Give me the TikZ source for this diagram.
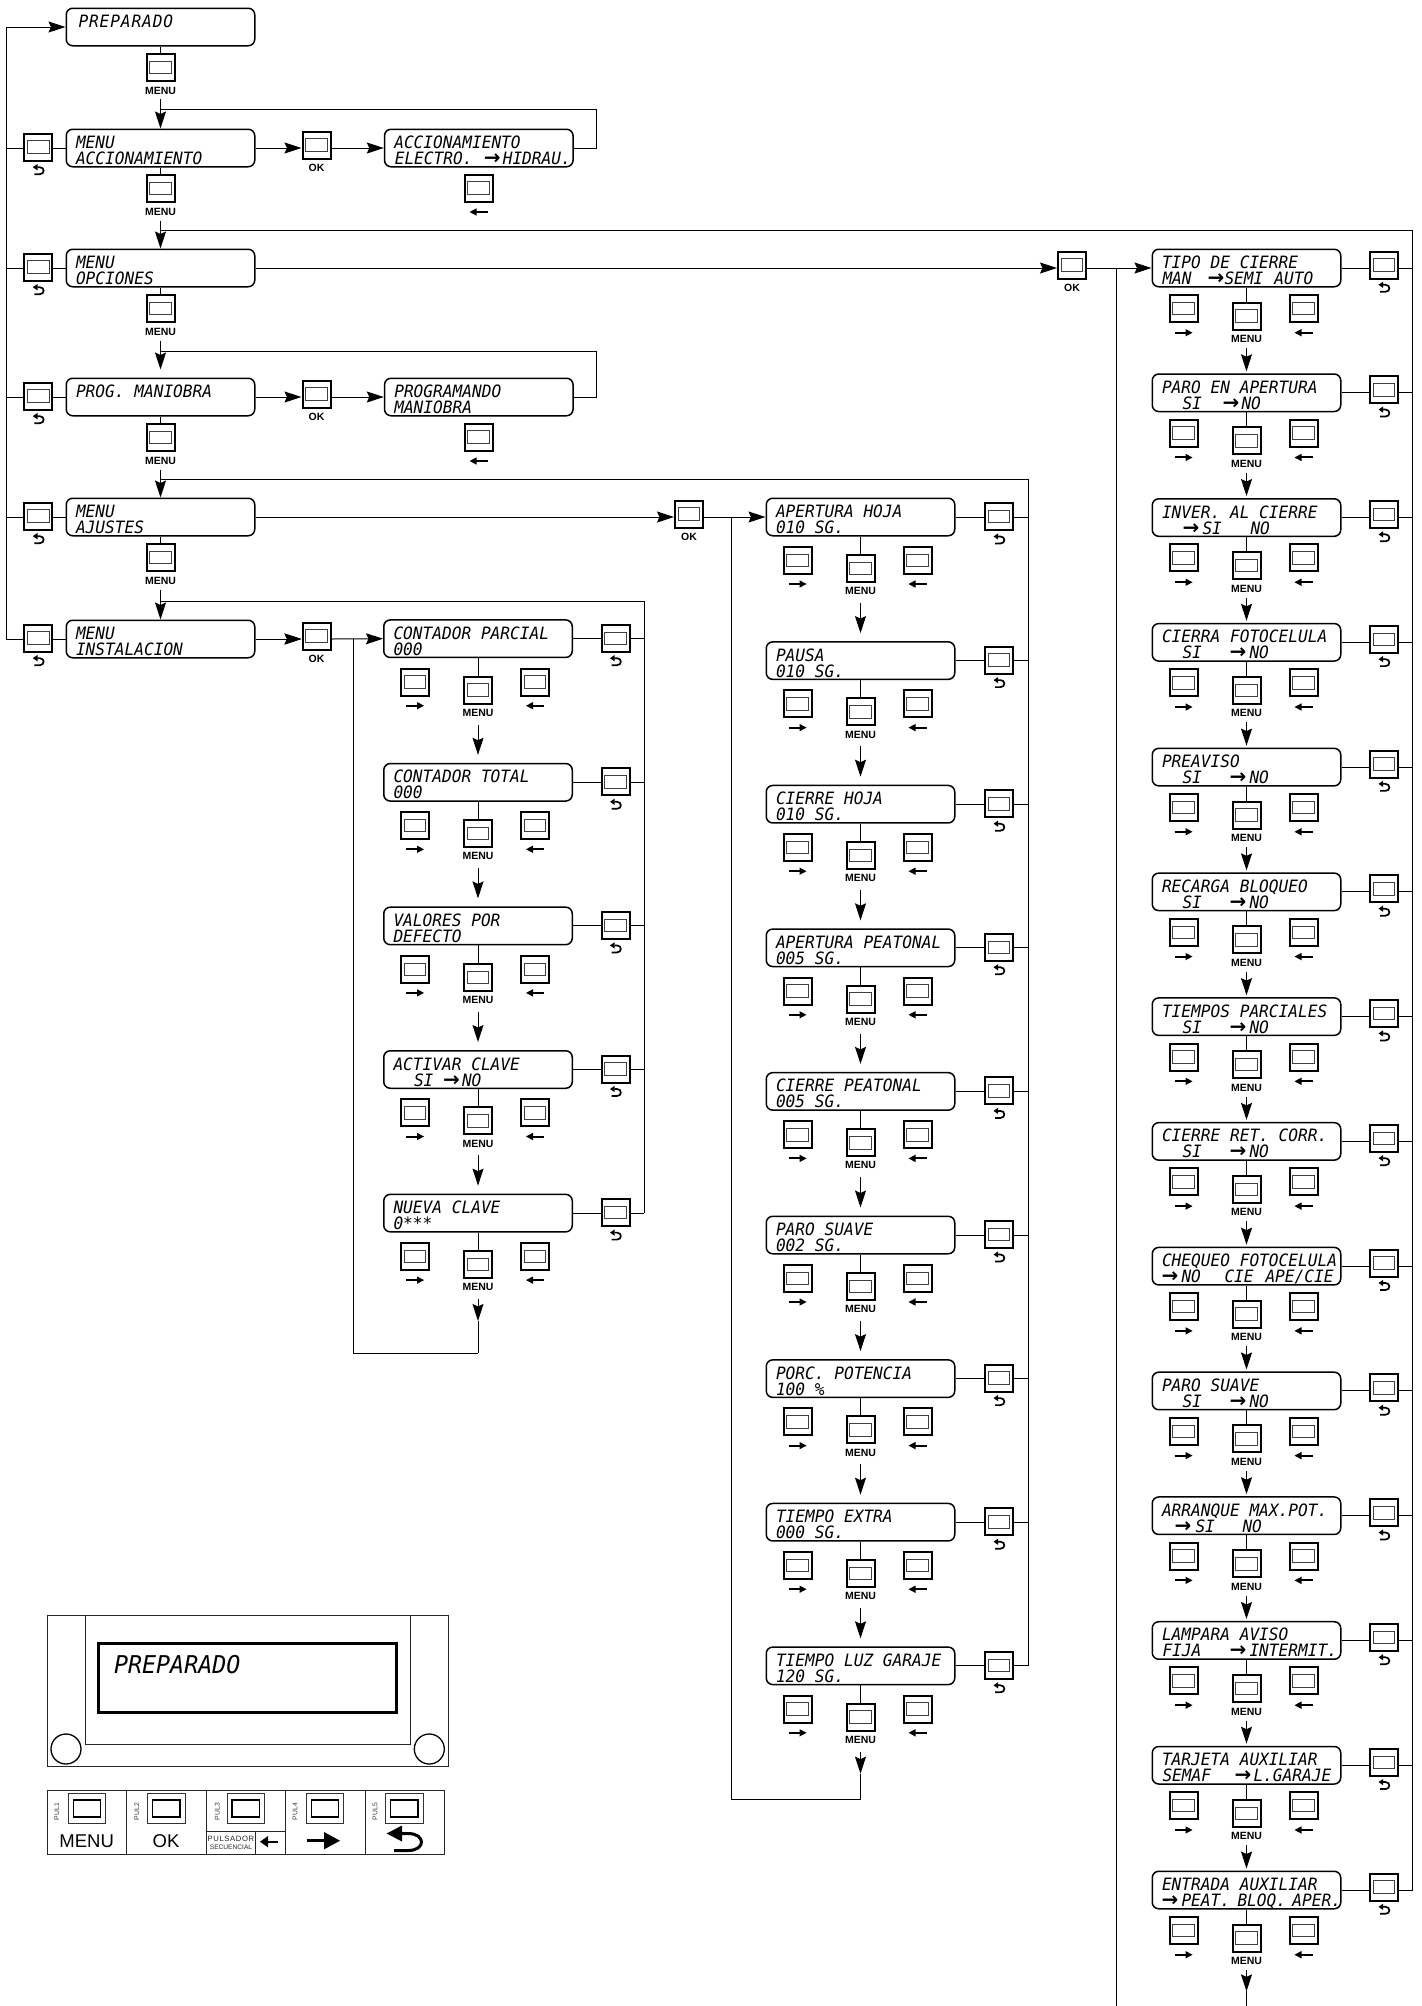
\documentclass[tikz,border=0pt]{standalone}
\usepackage{fontspec}
\usetikzlibrary{arrows.meta}
\setmainfont{Liberation Sans}
\newfontfamily\lcdf[FakeStretch=.95]{DejaVu Sans Mono}
\newfontfamily\arrf{DejaVu Sans}
\newcommand\arr{{\arrf\bfseries\fontsize{20}{20}\selectfont →}}
\newcommand\at[2]{\rlap{\hspace*{#1pt}#2}}
\newcommand\sino{\at{20}{SI}\at{67}{\arr}\at{87}{NO}}
\tikzset{
 ln/.style={line width=1pt,black},
 arrow line/.style={ln,-{Stealth[length=17pt,width=11pt,inset=2.5pt]}},
 lcdbox/.style={draw,line width=1.5pt,rounded corners=6.5pt,minimum width=188.5pt,minimum height=37.5pt,inner sep=0pt,fill=white},
 lcdtxt/.style={anchor=base west,inner sep=0pt,font=\lcdf\itshape\fontsize{17}{17}\selectfont},
 btn/.style={draw,line width=2pt,minimum width=28pt,minimum height=27pt,inner sep=0pt,fill=white},
 btnin/.style={draw=black!75,line width=.9pt,minimum width=21.5pt,minimum height=12.5pt,inner sep=0pt},
 lbl/.style={inner sep=0pt,font=\bfseries\fontsize{10.5}{10.5}\selectfont},
 kbin/.style={draw,line width=1.4pt,minimum width=27.5pt,minimum height=17pt,inner sep=0pt},
 kbout/.style={draw=black!80,line width=.8pt,minimum width=37.5pt,minimum height=30pt,inner sep=0pt},
 pul/.style={inner sep=0pt,rotate=90,text=black!80,font=\fontsize{6.8}{6.8}\selectfont},
 panel/.style={line width=1pt,draw=black!85},
 ricon/.pic={\draw[line width=2pt] (-9,0) -- (3,0); \fill (2,-3.7) -- (9,0) -- (2,3.7) -- cycle;},
 licon/.pic={\draw[line width=2pt] (9,0) -- (-3,0); \fill (-2,-3.7) -- (-9,0) -- (-2,3.7) -- cycle;},
 bicon/.pic={\fill (-5.5,-3.5) -- (-.8,-6.7) -- (-.8,-.3) -- cycle;
   \draw[line width=1.7pt] (-1,-3.5) -- (1.5,-3.5) .. controls (6.6,-3.5) and (6.6,3.5) .. (1.5,3.5) -- (-4,3.5);},
}
% a button: name, x, y
\newcommand\btnn[3]{\node[btn] (#1) at (#2,#3) {}; \node[btnin] (#1i) at (#1.center) {};}
% an lcd box: name, x, y, line1, line2
\newcommand\lcd[5]{\node[lcdbox] (#1) at (#2,#3) {};
 \node[lcdtxt] (#1a) at ([xshift=-84.7pt,yshift=-.5pt]#1.center) {#4};
 \def\tmpx{#5}\ifx\tmpx\empty\else\node[lcdtxt] (#1b) at ([xshift=-84.7pt,yshift=-16.5pt]#1.center) {#5};\fi}
% a column row: name, cx, cy, line1, line2, dyside, dymenu, dybackbtn, dyicon
\newcommand\rowx[9]{\lcd{#1}{#2}{#3}{#4}{#5}
 \btnn{#1r}{#2-63}{#3+#6}\btnn{#1m}{#2}{#3+#7}\btnn{#1l}{#2+57}{#3+#6}
 \btnn{#1k}{#2+\bdx}{#3+#8}
 \pic at (#2-63,#3+#9) {ricon};
 \pic at (#2+57,#3+#9) {licon};
 \pic at (#2+\bdx,#3+\bic) {bicon};
 \node[lbl] (#1t) at (#2,#3+\mlab) {MENU};
 \draw[ln] (#1.south) -- (#1m.north);
 \draw[ln] (#1.east) -- (#1.east -| #1k.west);
 \draw[ln] (#1.east -| #1k.east) -- (#1.east -| \rail);}
\begin{document}
\begin{tikzpicture}[x=1pt,y=-1pt]
\useasboundingbox (0,0) rectangle (1422,2006);
\coordinate (rail0) at (6.4,27);
% column 1
\lcd{a0}{160.5}{27}{\at{2}{P\hspace{.9pt}R\hspace{.9pt}E\hspace{.9pt}P\hspace{.9pt}A\hspace{.9pt}R\hspace{.9pt}A\hspace{.9pt}D\hspace{.9pt}O}}{}
\lcd{a1}{160.5}{148}{MENU}{ACCIONAMIENTO}
\lcd{a2}{160.5}{268}{MENU}{OPCIONES}
\lcd{a3}{160.5}{397}{PROG. MANIOBRA}{}
\lcd{a4}{160.5}{517}{MENU}{AJUSTES}
\lcd{a5}{160.5}{639}{MENU}{INSTALACION}
\lcd{b1}{478.8}{148}{ACCIONAMIENTO}{\at{0}{ELECTRO.}\at{89}{\arr}\at{108}{HIDRAU.}}
\lcd{b3}{478.8}{397}{PROGRAMANDO}{MANIOBRA}
\foreach \n/\y in {a0/27,a1/148,a2/268,a3/397,a4/517}{
 \btnn{\n m}{160.5}{\y+40.5}
 \node[lbl] (\n t) at (160.5,\y+64) {MENU};
 \draw[ln] (\n.south) -- (\n m.north);
}
\foreach \n/\y in {a1/148,a2/268,a3/397,a4/517,a5/639}{
 \btnn{\n k}{38.3}{\y-1}
 \pic at (38.3,\y+22.7) {bicon};
 \draw[ln] (\n.west -| rail0) -- (\n.west -| \n k.west);
 \draw[ln] (\n.west -| \n k.east) -- (\n.west);
}
\draw[ln] (rail0) -- (a5.west -| rail0);
\draw[arrow line] (rail0) -- (a0.west);
% OK buttons
\foreach \n/\x/\y in {a1/316.5/148,a3/316.5/397,a5/316.5/639,a2/1072/268,a4/689/517}{
 \btnn{\n o}{\x}{\y-3}
 \node[lbl] (\n ot) at (\x,\y+20) {OK};
 \draw[arrow line] (\n.east) -- (\n.east -| \n o.west);
}
\draw[arrow line] (a1.east -| a1o.east) -- (b1.west);
\draw[arrow line] (a3.east -| a3o.east) -- (b3.west);
\foreach \n/\y in {b1/148,b3/397}{
 \btnn{\n r}{478.6}{\y+40}
 \pic at (478.6,\y+64) {licon};
}
% column 1 vertical flow
\draw[arrow line] ([yshift=-4.2pt]a0t.south) -- (a1.north);
\draw[arrow line] ([yshift=-5pt]a1t.south) -- (a2.north);
\draw[arrow line] ([yshift=-5pt]a2t.south) -- ([yshift=8pt]a3.north);
\draw[arrow line] ([yshift=-5pt]a3t.south) -- (a4.north);
\draw[arrow line] ([yshift=-5pt]a4t.south) -- (a5.north);
\coordinate (l1) at (596,109);
\coordinate (l3) at (596,351);
\draw[ln] (b1.east) -- (b1.east -| l1) -- (l1) -- (l1 -| a1.north);
\draw[ln] (b3.east) -- (b3.east -| l3) -- (l3) -- (l3 -| a3.north);
% column 2
\def\bdx{137.5}\def\bic{23}\def\mlab{74}\def\rail{rail2}
\coordinate (rail2) at (644.4,601);
\foreach \i/\s/\t in {1/{CONTADOR PARCIAL}/{000},2/{CONTADOR TOTAL}/{000},3/{VALORES POR}/{DEFECTO},4/{ACTIVAR CLAVE}/{\at{20}{SI}\at{49}{\arr}\at{68}{NO}},5/{NUEVA CLAVE}/{0***}}{
 \pgfmathsetmacro\cy{638.7+(\i-1)*143.6}
 \rowx{c\i}{478}{\cy}{\s}{\t}{43.3}{51.3}{-.5}{67}
}
\draw[ln] (rail2) -- (rail2 -| a5.north);
\draw[ln] (rail2) -- (c5.east -| rail2);
\foreach \i/\j in {1/2,2/3,3/4,4/5}{
 \draw[arrow line] ([yshift=-8pt]c\i t.south) -- ([yshift=8pt]c\j.north);
}
\draw[arrow line] (a5.east) -- (a5.east -| a5o.west);
\coordinate (cb) at (353.2,1353);
\draw[arrow line] (a5.east -| a5o.east) -- (c1.west);
\draw[ln] (c1.west -| cb) -- (cb) -- (cb -| c5.south);
\draw[arrow line] ([yshift=-8pt]c5t.south) -- ([yshift=-30pt]c5t.south);
\draw[ln] ([yshift=-30pt]c5t.south) -- (cb -| c5.south);
% column 3
\def\bdx{138.5}\def\rail{rail3}
\coordinate (rail3) at (1028,479.3);
\foreach \i/\s/\t in {1/{APERTURA HOJA}/{010 SG.},2/{PAUSA}/{010 SG.},3/{CIERRE HOJA}/{010 SG.},4/{APERTURA PEATONAL}/{005 SG.},5/{CIERRE PEATONAL}/{005 SG.},6/{PARO SUAVE}/{002 SG.},7/{PORC. POTENCIA}/{100 \%},8/{TIEMPO EXTRA}/{000 SG.},9/{TIEMPO LUZ GARAJE}/{120 SG.}}{
 \pgfmathsetmacro\cy{517+(\i-1)*143.6}
 \rowx{d\i}{860.5}{\cy}{\s}{\t}{43.3}{51.3}{-.5}{67}
}
\draw[ln] (rail3) -- (rail3 -| a4.north);
\draw[ln] (rail3) -- (d9.east -| rail3);
\foreach \i/\j in {1/2,2/3,3/4,4/5,5/6,6/7,7/8,8/9}{
 \draw[arrow line] ([yshift=-8pt]d\i t.south) -- ([yshift=8pt]d\j.north);
}
\draw[arrow line] (a4.east -| a4o.east) -- (d1.west);
\coordinate (db) at (731.5,1799);
\draw[ln] (d1.west -| db) -- (db) -- (db -| d9.south);
\draw[arrow line] ([yshift=-8pt]d9t.south) -- ([yshift=-30pt]d9t.south);
\draw[ln] ([yshift=-30pt]d9t.south) -- (db -| d9.south);
% column 4
\def\bdx{137.5}\def\bic{20.3}\def\mlab{71}\def\rail{rail4}
\coordinate (rail4) at (1412.7,230);
\foreach \i/\s/\t in {
 1/{TIPO DE CIERRE}/{\at{0}{MAN}\at{45}{\arr}\at{62}{SEMI}\at{112}{AUTO}},
 2/{PARO EN APERTURA}/{\at{20}{SI}\at{60}{\arr}\at{79}{NO}},
 3/{INVER. AL CIERRE}/{\at{20}{\arr}\at{40}{SI}\at{88}{NO}},
 4/{CIERRA FOTOCELULA}/{\sino},
 5/{PREAVISO}/{\sino},
 6/{RECARGA BLOQUEO}/{\sino},
 7/{TIEMPOS PARCIALES}/{\sino},
 8/{CIERRE RET. CORR.}/{\sino},
 9/{CHEQUEO FOTOCELULA}/{\at{-1}{\arr}\at{19}{NO}\at{62}{CIE}\at{103}{APE/CIE}},
 10/{PARO SUAVE}/{\sino},
 11/{ARRANQUE MAX.POT.}/{\at{12}{\arr}\at{33}{SI}\at{80}{NO}},
 12/{LAMPARA AVISO}/{\at{0}{FIJA}\at{67}{\arr}\at{87}{INTERMIT.}},
 13/{TARJETA AUXILIAR}/{\at{0}{SEMAF}\at{72}{\arr}\at{91}{L.GARAJE}},
 14/{ENTRADA AUXILIAR}/{\at{-1}{\arr}\at{19}{PEAT.}\at{75}{BLOQ.}\at{130}{APER.}}}{
 \pgfmathsetmacro\cy{268+(\i-1)*124.77}
 \rowx{e\i}{1246.5}{\cy}{\s}{\t}{40.4}{48}{-3}{64.7}
}
\draw[ln] (rail4) -- (rail4 -| a2.north);
\draw[ln] (rail4) -- (e14.east -| rail4);
\foreach \i/\j in {1/2,2/3,3/4,4/5,5/6,6/7,7/8,8/9,9/10,10/11,11/12,12/13,13/14}{
 \draw[arrow line] ([yshift=-5.2pt]e\i t.south) -- ([yshift=2pt]e\j.north);
}
\draw[arrow line] (a2.east -| a2o.east) -- (e1.west);
\coordinate (eb) at (1116.7,2006);
\draw[ln] (e1.west -| eb) -- (eb);
\draw[arrow line] ([yshift=-5.2pt]e14t.south) -- ([yshift=-26.5pt]e14t.south);
\draw[ln] ([yshift=-26.5pt]e14t.south) -- (eb -| e14t.south);
% display panel
\node[panel,draw,minimum width=401pt,minimum height=151pt,inner sep=0pt] (pan) at (247.8,1691.2) {};
\node[panel,draw,minimum width=325pt,minimum height=128.3pt,inner sep=0pt] (pani) at (247.5,1679.9) {};
\node[draw,line width=2.5pt,minimum width=298.4pt,minimum height=69pt,inner sep=0pt] (scr) at (247.5,1677.8) {};
\node[anchor=base west,inner sep=0pt,font=\lcdf\itshape\fontsize{24.5}{24.5}\selectfont] (scrt) at (114,1673) {PREPARADO};
\node[draw,circle,fill=white,line width=1.3pt,minimum size=30pt,inner sep=0pt] (c1x) at (66,1749) {};
\node[draw,circle,fill=white,line width=1.3pt,minimum size=30pt,inner sep=0pt] (c2x) at (429.3,1749) {};
% keypad
\node[panel,draw,minimum width=397pt,minimum height=64.3pt,inner sep=0pt] (kp) at (245.8,1822.2) {};
\foreach \x in {126.7,206,285.7,365}{\draw[panel] (\x,1790) -- (\x,1854.3);}
\foreach \i/\x/\l in {1/87/56.7,2/166.3/136.7,3/245.8/217.3,4/325/295,5/404.3/375}{
 \node[kbout] (kb\i) at (\x,1808.3) {};
 \node[kbin] (kc\i) at (kb\i.center) {};
 \node[pul] (kl\i) at (\l,1811.5) {PUL\i};
}
\node[inner sep=0pt,font=\fontsize{18.5}{18.5}\selectfont] (km) at (86.7,1841.5) {MENU};
\node[inner sep=0pt,font=\fontsize{18.5}{18.5}\selectfont] (ko) at (166,1841.5) {OK};
\draw[panel] (206,1831.7) -- (285.7,1831.7);
\draw[panel] (255.7,1831.7) -- (255.7,1854.3);
\node[inner sep=0pt,text=black!85,font=\fontsize{7.7}{7.7}\selectfont] (kp1) at (231,1839) {P\hspace{.6pt}U\hspace{.6pt}L\hspace{.6pt}S\hspace{.6pt}A\hspace{.6pt}D\hspace{.6pt}O\hspace{.6pt}R};
\node[inner sep=0pt,text=black!85,font=\fontsize{6.6}{6.6}\selectfont] (kp2) at (231,1847.3) {SECUENCIAL};
\draw[line width=1.8pt] (278,1841.7) -- (266,1841.7);
\fill (268,1836) -- (260,1841.7) -- (268,1847.4) -- cycle;
\draw[line width=3pt] (306.7,1840.7) -- (326,1840.7);
\fill (324,1832) -- (340,1840.7) -- (324,1849.4) -- cycle;
\fill (386.7,1833.5) -- (402,1825.5) -- (402,1841.5) -- cycle;
\draw[line width=3pt] (401,1833.5) -- (408,1833.5) .. controls (426,1833.5) and (426,1850.5) .. (408,1850.5) -- (394,1850.5);
\end{tikzpicture}
\end{document}
